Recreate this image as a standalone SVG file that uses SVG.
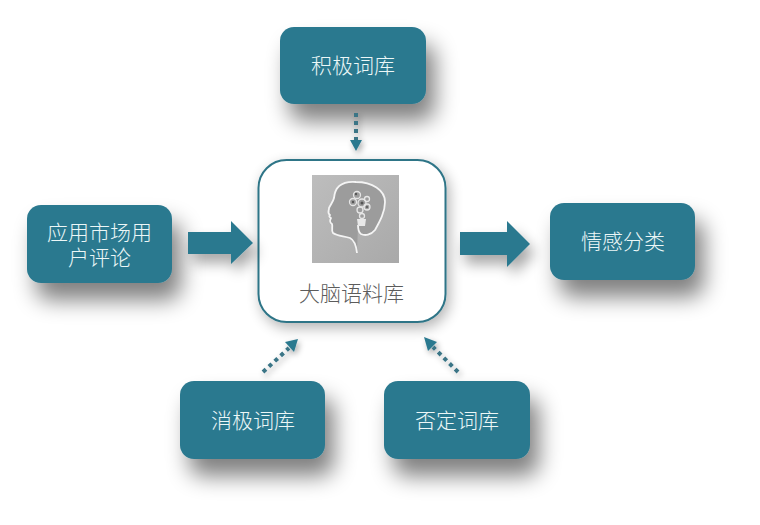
<svg xmlns="http://www.w3.org/2000/svg" width="760" height="525" viewBox="0 0 760 525">
<style>
.box{fill:#2c798f}
.t{font-family:"Noto Sans CJK SC","Liberation Sans",sans-serif;font-size:21px;font-weight:300;fill:#ecf7f7;text-anchor:middle}
.dot{fill:none;stroke:#3a7486;stroke-width:4;stroke-dasharray:4 4}
.head{fill:#2c798f}
</style>
<defs>
<filter id="sh" x="-40%" y="-40%" width="190%" height="230%">
<feGaussianBlur in="SourceAlpha" stdDeviation="11"/>
<feOffset dx="9" dy="17"/>
<feComponentTransfer><feFuncA type="linear" slope="0.5"/></feComponentTransfer>
<feMerge><feMergeNode/><feMergeNode in="SourceGraphic"/></feMerge>
</filter>
<filter id="shc" x="-20%" y="-20%" width="140%" height="140%">
<feGaussianBlur in="SourceAlpha" stdDeviation="7"/>
<feOffset dx="3" dy="5"/>
<feComponentTransfer><feFuncA type="linear" slope="0.3"/></feComponentTransfer>
<feMerge><feMergeNode/><feMergeNode in="SourceGraphic"/></feMerge>
</filter>
<filter id="sa" x="-60%" y="-60%" width="240%" height="240%">
<feGaussianBlur in="SourceAlpha" stdDeviation="3"/>
<feOffset dx="2" dy="3"/>
<feComponentTransfer><feFuncA type="linear" slope="0.35"/></feComponentTransfer>
<feMerge><feMergeNode/><feMergeNode in="SourceGraphic"/></feMerge>
</filter>
<filter id="sb" x="-40%" y="-60%" width="200%" height="260%">
<feGaussianBlur in="SourceAlpha" stdDeviation="7"/>
<feOffset dx="5" dy="9"/>
<feComponentTransfer><feFuncA type="linear" slope="0.35"/></feComponentTransfer>
<feMerge><feMergeNode/><feMergeNode in="SourceGraphic"/></feMerge>
</filter>
<linearGradient id="bg" x1="0" y1="0" x2="1" y2="1"><stop offset="0" stop-color="#bdbdbd"/><stop offset="1" stop-color="#a9a9a9"/></linearGradient>
</defs>
<rect width="760" height="525" fill="#ffffff"/>

<g id="node-top"><rect class="box" x="280" y="27" width="146" height="77" rx="14" filter="url(#sh)"/><text class="t" x="353" y="73">积极词库</text></g>
<g id="node-left"><rect class="box" x="27" y="205" width="145" height="78" rx="14" filter="url(#sh)"/><text class="t" x="99.500" y="240">应用市场用</text><text class="t" x="99.500" y="265">户评论</text></g>
<g id="node-right"><rect class="box" x="550" y="203" width="145" height="77" rx="14" filter="url(#sh)"/><text class="t" x="623" y="249">情感分类</text></g>
<g id="node-bottom-left"><rect class="box" x="180" y="381" width="145" height="78" rx="14" filter="url(#sh)"/><text class="t" x="253" y="428">消极词库</text></g>
<g id="node-bottom-right"><rect class="box" x="384" y="381" width="146" height="78" rx="14" filter="url(#sh)"/><text class="t" x="457" y="428">否定词库</text></g>

<g id="node-center">
<rect x="258.500" y="160" width="187" height="162" rx="28" fill="#ffffff" stroke="#2f7587" stroke-width="2" filter="url(#shc)"/>
<rect x="312" y="175" width="87" height="88" fill="url(#bg)"/>
<path d="M357 253C356 244 354 240 350 238C344 236 337 236 333 233C331 230 333 227 332 224C329 222 330 220 331 218C329 217 329 216 330 215C327 213 329 211 329 208C331 204 333 202 334 198C335 186 343 181 356 182C372 182 385 190 385 202C385 212 380 221 375 230C371 235 365 236 361 234C358 232 358 228 358 225" fill="#9c9c9c" stroke="#f4f4f4" stroke-width="1.800" stroke-linejoin="round"/>
<g fill="none" stroke="#e6e6e6" stroke-width="1.300">
<circle cx="353" cy="202" r="3.500"/><circle cx="357" cy="195" r="3.500"/><circle cx="362" cy="203" r="4"/><circle cx="367" cy="199" r="2.500"/><circle cx="360" cy="210" r="3"/><circle cx="367" cy="207" r="3"/><circle cx="362" cy="216" r="2.500"/>
</g>
<g fill="#555555"><circle cx="356" cy="194" r="1.200"/><circle cx="362" cy="203" r="1.500"/><circle cx="353" cy="202" r="1.200"/><circle cx="367" cy="207" r="1"/></g>
<path d="M357 219h9l-1 7h-7z" fill="#e8e8e8"/>
<text x="351.500" y="301" font-family="'Noto Sans CJK SC','Liberation Sans',sans-serif" font-size="21" font-weight="300" fill="#5c5c5c" text-anchor="middle">大脑语料库</text>
</g>

<g id="connectors">
<path class="head" d="M188 232H231V221L253 243L231 264V254H188Z" filter="url(#sb)"/>
<path class="head" d="M460 232H507V221L530 244L507 267V255H460Z" filter="url(#sb)"/>
<g filter="url(#sa)">
<path class="dot" d="M356 113V140"/><path class="head" d="M350 140H362L356 151Z"/>
</g>
<g filter="url(#sa)">
<path class="dot" d="M263 372L289 348"/><path class="head" d="M298 339L294 352L285 342Z"/>
</g>
<g filter="url(#sa)">
<path class="dot" d="M458 372L433 347"/><path class="head" d="M424 337L437 342L428 351Z"/>
</g>
</g>
</svg>
